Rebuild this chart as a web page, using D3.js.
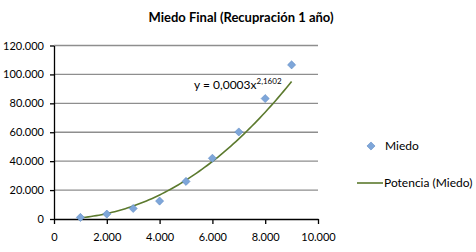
<!DOCTYPE html>
<html lang="es">
<head>
<meta charset="UTF-8">
<title>Miedo Final</title>
<script src="https://d3js.org/d3.v7.min.js"></script>
<style>
  body { margin: 0; background: #fff; }
  svg text { font-family: Lato, "Open Sans", sans-serif; fill: #000; }
  .grid line { stroke: #8e8e8e; stroke-width: 1.4; }
  .axis path, .axis line { stroke: #000; stroke-width: 1.3; }
</style>
</head>
<body>
<svg id="chart" width="476" height="252"></svg>
<script>
const xValues = [1000, 2000, 3000, 4000, 5000, 6000, 7000, 8000, 9000];
const miedo = [1100, 3400, 7300, 12400, 26000, 42000, 60200, 83300, 106600];
const xTicks = [0, 2000, 4000, 6000, 8000, 10000];
const yTicks = [0, 20000, 40000, 60000, 80000, 100000, 120000];
const seriesNames = ["Miedo", "Potencia (Miedo)"];
const equation = { base: "y = 0,0003x", exp: "2,1602" };

const svg = d3.select("#chart");
const fmt = d => d3.format(",")(d).replace(/,/g, ".");

const x = d3.scaleLinear().domain([0, 10000]).range([54, 318]);
const y = d3.scaleLinear().domain([0, 120000]).range([219, 45.5]);

svg.append("text")
  .attr("x", 241).attr("y", 22)
  .attr("text-anchor", "middle")
  .style("font-size", "13px").style("font-weight", "bold")
  .text("Miedo Final (Recupración 1 año)");

// gridlines
svg.append("g").attr("class", "grid")
  .selectAll("line").data(yTicks.slice(1)).join("line")
  .attr("x1", x(0)).attr("x2", x(10000))
  .attr("y1", d => y(d)).attr("y2", d => y(d));

// axes
svg.append("g").attr("class", "axis")
  .attr("transform", `translate(0,${y(0)})`)
  .call(d3.axisBottom(x).tickValues(xTicks).tickFormat(fmt).tickSize(5).tickSizeOuter(0).tickPadding(9))
  .call(g => g.selectAll("text").style("font-size", "11px"));

svg.append("g").attr("class", "axis")
  .attr("transform", `translate(${x(0)},0)`)
  .call(d3.axisLeft(y).tickValues(yTicks).tickFormat(fmt).tickSize(4).tickSizeOuter(0).tickPadding(6))
  .call(g => g.selectAll("text").style("font-size", "11px"));

// power trendline fitted on log-log data
const lx = xValues.map(Math.log), ly = miedo.map(Math.log);
const mx = d3.mean(lx), my = d3.mean(ly);
const b = d3.sum(lx, (v, i) => (v - mx) * (ly[i] - my)) / d3.sum(lx, v => (v - mx) * (v - mx));
const a = Math.exp(my - b * mx);
const trendX = d3.range(xValues[0], xValues[xValues.length - 1] + 1, 100);

svg.append("path")
  .datum(trendX)
  .attr("fill", "none").attr("stroke", "#5c7a2e").attr("stroke-width", 1.6)
  .attr("d", d3.line().x(d => x(d)).y(d => y(a * Math.pow(d, b))));

const diamond = d3.symbol().type(d3.symbolDiamond2).size(42);

svg.append("g").selectAll("path").data(xValues).join("path")
  .attr("d", diamond)
  .attr("transform", (d, i) => `translate(${x(d)},${y(miedo[i])})`)
  .attr("fill", "#7ea6d9").attr("stroke", "#5f8bc4").attr("stroke-width", 0.6);

// equation label
const eq = svg.append("text").attr("x", 194).attr("y", 89).style("font-size", "12px");
eq.append("tspan").text(equation.base);
eq.append("tspan").attr("dy", -5).style("font-size", "8px").text(equation.exp);

// legend
const leg = svg.append("g");
leg.append("path").attr("d", diamond)
  .attr("transform", "translate(371,146)")
  .attr("fill", "#7ea6d9").attr("stroke", "#5f8bc4").attr("stroke-width", 0.6);
leg.append("text").attr("x", 385).attr("y", 150).style("font-size", "12px").text(seriesNames[0]);
leg.append("line").attr("x1", 357).attr("x2", 383).attr("y1", 183).attr("y2", 183)
  .attr("stroke", "#5c7a2e").attr("stroke-width", 1.6);
leg.append("text").attr("x", 384).attr("y", 187).style("font-size", "12px").text(seriesNames[1]);
</script>
</body>
</html>
